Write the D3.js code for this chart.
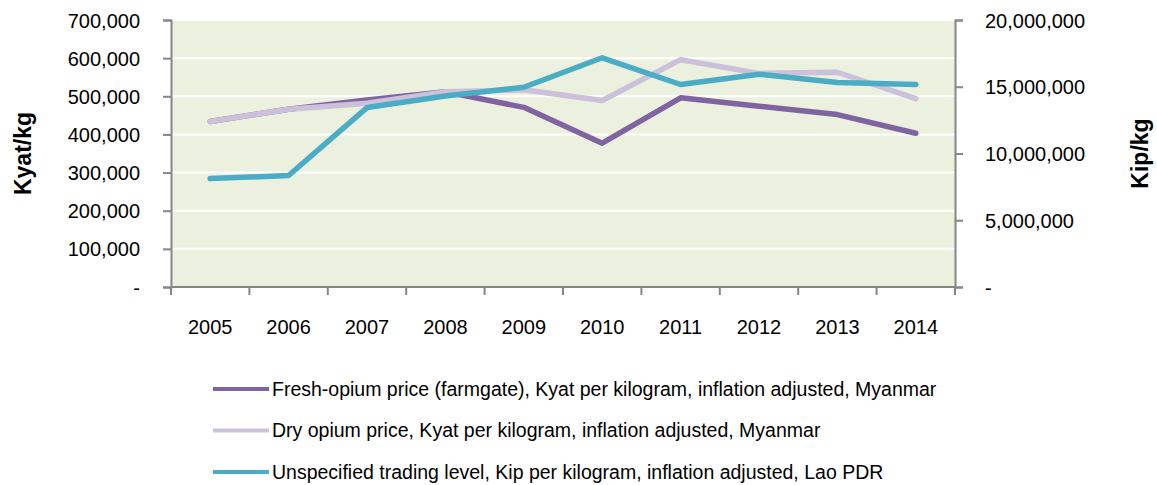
<!DOCTYPE html>
<html>
<head>
<meta charset="utf-8">
<script src="https://cdn.jsdelivr.net/npm/d3@7"></script>
<style>
  body { margin: 0; background: #fff; }
  text { font-family: "Liberation Sans", Arial, sans-serif; fill: #000; }
</style>
</head>
<body>
<div id="chart"></div>
<script>
// data
var years = ["2005", "2006", "2007", "2008", "2009", "2010", "2011", "2012", "2013", "2014"];
var freshKyat = [434000, 466000, 490000, 512000, 471000, 377000, 496000, 474000, 452000, 403000];
var dryKyat = [434000, 466000, 482000, 512000, 517000, 489000, 596000, 560000, 563000, 494000];
var laoKip = [8120000, 8350000, 13440000, 14300000, 14960000, 17170000, 15170000, 15940000, 15320000, 15170000];
var leftTicks = [0, 100000, 200000, 300000, 400000, 500000, 600000, 700000];
var rightTicks = [0, 5000000, 10000000, 15000000, 20000000];
var seriesNames = [
  "Fresh-opium price (farmgate), Kyat per kilogram, inflation adjusted, Myanmar",
  "Dry opium price, Kyat per kilogram, inflation adjusted, Myanmar",
  "Unspecified trading level, Kip per kilogram, inflation adjusted, Lao PDR"
];
var colors = ["#8064A2", "#CCC1DA", "#4BACC6"];

var width = 1157, height = 485;
var margin = {top: 20, right: 202, bottom: 198, left: 171};

var svg = d3.select("#chart").append("svg")
  .attr("width", width).attr("height", height);

var x = d3.scaleBand().domain(years)
  .range([margin.left, width - margin.right]);
var yL = d3.scaleLinear().domain([0, 700000])
  .range([height - margin.bottom, margin.top]);
var yR = d3.scaleLinear().domain([0, 20000000])
  .range([height - margin.bottom, margin.top]);

var fmt = function(v) { return v === 0 ? "-" : d3.format(",")(v); };

// plot background
svg.append("rect")
  .attr("x", margin.left).attr("y", margin.top)
  .attr("width", width - margin.left - margin.right)
  .attr("height", height - margin.top - margin.bottom)
  .attr("fill", "#EBF1DE");

// gridlines
svg.append("g").selectAll("line")
  .data(leftTicks.slice(1))
  .join("line")
  .attr("x1", margin.left).attr("x2", width - margin.right)
  .attr("y1", d => yL(d)).attr("y2", d => yL(d))
  .attr("stroke", "#fff").attr("stroke-width", 2);

// left axis
var gL = svg.append("g")
  .attr("transform", `translate(${margin.left},0)`)
  .call(d3.axisLeft(yL).tickValues(leftTicks).tickFormat(fmt).tickSize(8).tickPadding(23));
gL.selectAll("text").style("font-size", "20px").attr("dy", "0.35em");

// right axis
var gR = svg.append("g")
  .attr("transform", `translate(${width - margin.right},0)`)
  .call(d3.axisRight(yR).tickValues(rightTicks).tickFormat(fmt).tickSize(8).tickPadding(22));
gR.selectAll("text").style("font-size", "20px").attr("dy", "0.35em");

// bottom axis (ticks at band edges)
var xEdges = years.map(d => x(d)).concat([x(years[years.length - 1]) + x.bandwidth()]);
var gB = svg.append("g");
gB.append("line")
  .attr("x1", margin.left).attr("x2", width - margin.right)
  .attr("y1", yL(0)).attr("y2", yL(0));
gB.selectAll(".tk").data(xEdges).join("line").attr("class", "tk")
  .attr("x1", d => d).attr("x2", d => d)
  .attr("y1", yL(0)).attr("y2", yL(0) + 8);
gB.selectAll("text").data(years).join("text")
  .attr("x", d => x(d) + x.bandwidth() / 2)
  .attr("y", yL(0) + 47)
  .attr("text-anchor", "middle")
  .style("font-size", "20px")
  .text(d => d);

svg.selectAll(".domain, .tick line, g line:not([stroke='#fff'])")
  .attr("stroke", "#868686").attr("stroke-width", 2);

// axis titles
svg.append("text")
  .attr("transform", `translate(31,${(margin.top + height - margin.bottom) / 2}) rotate(-90)`)
  .attr("text-anchor", "middle")
  .style("font-size", "23px").style("font-weight", "bold")
  .text("Kyat/kg");
svg.append("text")
  .attr("transform", `translate(1148,${(margin.top + height - margin.bottom) / 2}) rotate(-90)`)
  .attr("text-anchor", "middle")
  .style("font-size", "23px").style("font-weight", "bold")
  .text("Kip/kg");

// lines
var cx = d => x(d) + x.bandwidth() / 2;
var lineL = d3.line().x((d, i) => cx(years[i])).y(d => yL(d));
var lineR = d3.line().x((d, i) => cx(years[i])).y(d => yR(d));

var seriesData = [
  {values: freshKyat, line: lineL},
  {values: dryKyat, line: lineL},
  {values: laoKip, line: lineR}
];
svg.append("g").selectAll("path")
  .data(seriesData)
  .join("path")
  .attr("d", d => d.line(d.values))
  .attr("fill", "none")
  .attr("stroke", (d, i) => colors[i])
  .attr("stroke-width", 5.5)
  .attr("stroke-linejoin", "round")
  .attr("stroke-linecap", "round");

// legend
var legend = svg.append("g").selectAll("g")
  .data(seriesNames)
  .join("g")
  .attr("transform", (d, i) => `translate(213,${389 + i * 41.5})`);
legend.append("line")
  .attr("x1", 0).attr("x2", 56)
  .attr("stroke", (d, i) => colors[seriesNames.indexOf(d)])
  .attr("stroke-width", 4);
legend.append("text")
  .attr("x", 59).attr("dy", "0.35em")
  .style("font-size", "19.5px")
  .text(d => d);
</script>
</body>
</html>
